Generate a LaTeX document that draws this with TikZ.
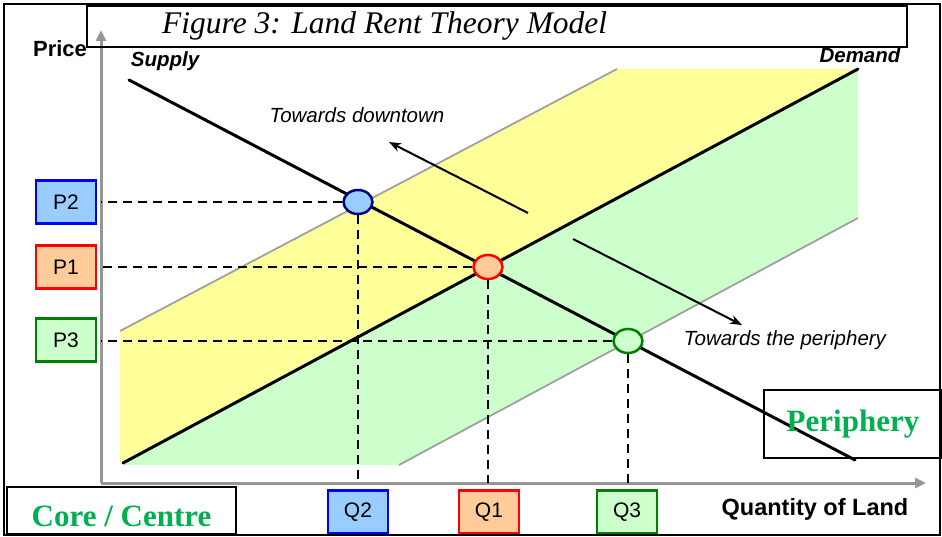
\documentclass[tikz,border=0pt]{standalone}
\usepackage{fontspec}
\setmainfont{Liberation Serif}
\setsansfont{Liberation Sans}
\usetikzlibrary{arrows.meta,shapes.geometric}
\definecolor{bandyellow}{RGB}{255,255,153}
\definecolor{bandgreen}{RGB}{204,255,204}
\definecolor{boxblue}{RGB}{153,204,255}
\definecolor{boxorange}{RGB}{255,204,153}
\definecolor{labelgreen}{RGB}{0,176,80}
\definecolor{axisgray}{RGB}{150,150,150}
\definecolor{linegray}{RGB}{160,160,160}
\definecolor{navyline}{RGB}{0,0,128}
\definecolor{darkgreenline}{RGB}{0,128,0}
\begin{document}
\begin{tikzpicture}[x=1pt, y=-1pt,
  every node/.style={font=\sffamily\fontsize{21}{24}\selectfont, inner sep=0pt},
  pbox/.style={draw, line width=2.5pt, minimum width=60pt, minimum height=43pt},
  eqpt/.style={ellipse, line width=2.5pt, minimum width=29pt, minimum height=24pt},
  curve/.style={line width=3pt, line cap=round},
  shiftline/.style={line width=1.8pt, linegray},
  guide/.style={line width=2pt, dash pattern=on 9pt off 6pt},
  axis/.style={line width=3pt, axisgray, -{Triangle[length=11pt,width=10pt]}},
  move/.style={line width=2pt, -{Stealth[length=12pt,width=9pt]}},
  frame/.style={draw, line width=2pt},
  axislabel/.style={font=\sffamily\bfseries\fontsize{22}{26}\selectfont},
  curvelabel/.style={font=\sffamily\bfseries\itshape\fontsize{20.5}{24}\selectfont},
  movelabel/.style={font=\sffamily\itshape\fontsize{20.5}{24}\selectfont},
  zonelabel/.style={frame, font=\rmfamily\bfseries\fontsize{31}{34}\selectfont, text=labelgreen},
]
  \useasboundingbox (0,0) rectangle (942,537);
  % Coordinates
  \coordinate (origin) at (101,483);
  \coordinate (ytip) at (101,30);
  \coordinate (xtip) at (926,483);
  \coordinate (sup-a) at (129,80);
  \coordinate (sup-b) at (855,460);
  \coordinate (dem-a) at (123,463);
  \coordinate (dem-b) at (858,69);
  \coordinate (hi-a) at (120,331);
  \coordinate (hi-b) at (617,69);
  \coordinate (lo-a) at (399,465);
  \coordinate (lo-b) at (858,218);
  \coordinate (dt-a) at (528,213);
  \coordinate (dt-b) at (389,142);
  \coordinate (pp-a) at (573,239);
  \coordinate (pp-b) at (742,325);
  % Bands
  \fill[bandyellow] (hi-a) -- (hi-b) -- (dem-b) -- (dem-a) -- (120,463) -- cycle;
  \fill[bandgreen] (dem-a) -- (dem-b) -- (lo-b) -- (lo-a) -- (123,465) -- cycle;
  \draw[shiftline] (hi-a) -- (hi-b);
  \draw[shiftline] (lo-a) -- (lo-b);
  % Axes
  \draw[axis] (origin) -- (ytip);
  \draw[axis] (origin) -- (xtip);
  % Supply and demand
  \draw[curve] (sup-a) -- (sup-b);
  \draw[curve] (dem-a) -- (dem-b);
  % Equilibrium points
  \node[eqpt, draw=navyline, fill=boxblue] (e2) at (358,202) {};
  \node[eqpt, draw=red, fill=boxorange] (e1) at (488,267) {};
  \node[eqpt, draw=darkgreenline, fill=bandgreen] (e3) at (628,341) {};
  % Guides to the axes
  \foreach \e in {e1,e2,e3} {
    \draw[guide] (\e) -- (\e -| origin);
    \draw[guide] (\e) -- (\e |- origin);
  }
  % Shifts
  \draw[move] (dt-a) -- (dt-b);
  \draw[move] (pp-a) -- (pp-b);
  \node[movelabel, anchor=base] (todown) at (357,123) {Towards downtown};
  \node[movelabel, anchor=base] (toperi) at (785,345) {Towards the periphery};
  % Curve and axis labels
  \node[curvelabel, anchor=base] (supply) at (165,67) {Supply};
  \node[curvelabel, anchor=base] (demand) at (860,63) {Demand};
  \node[axislabel, anchor=base] (price) at (60,57) {Price};
  \node[axislabel, anchor=base, font=\sffamily\bfseries\fontsize{23.5}{26}\selectfont] (quantity) at (815,515) {Quantity of Land};
  % Price and quantity boxes
  \node[pbox, draw=blue, fill=boxblue] (p2) at (66,202) {P2};
  \node[pbox, draw=red, fill=boxorange] (p1) at (66,267) {P1};
  \node[pbox, draw=darkgreenline, fill=bandgreen] (p3) at (66,340) {P3};
  \node[pbox, draw=blue, fill=boxblue] (q2) at (358,512) {Q2};
  \node[pbox, draw=red, fill=boxorange] (q1) at (489,512) {Q1};
  \node[pbox, draw=darkgreenline, fill=bandgreen] (q3) at (627,512) {Q3};
  % Title and zones
  \node[frame, minimum width=820pt, minimum height=41pt] (titlebox) at (497,26.5) {};
  \node[anchor=base west, font=\rmfamily\itshape\fontsize{31.5}{34}\selectfont] (title) at (162,34)
    {Figure 3: Land Rent Theory Model};
  \node[zonelabel, minimum width=178pt, minimum height=68pt] (periphery) at (853,424) {Periphery};
  \node[zonelabel, minimum width=229pt, minimum height=47pt, text height=31pt, text depth=0pt] (core) at (121.5,510.5) {Core / Centre};
  \draw[frame] (4,4) rectangle (940,535);
\end{tikzpicture}
\end{document}
